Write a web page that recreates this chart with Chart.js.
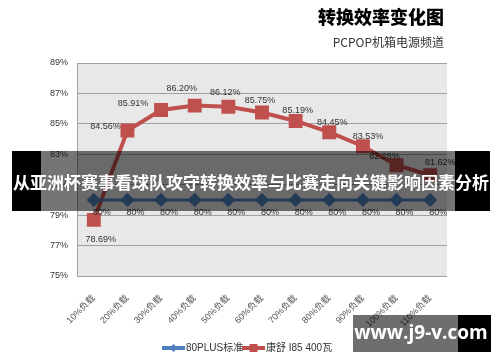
<!DOCTYPE html>
<html>
<head>
<meta charset="utf-8">
<script src="https://cdn.jsdelivr.net/npm/chart.js@4.4.1/dist/chart.umd.min.js"></script>
<style>
  html, body { margin: 0; padding: 0; background: #fff; }
  #wrap { width: 500px; height: 362px; position: relative; }
</style>
</head>
<body>
<div id="wrap"><canvas id="chart" width="500" height="362"></canvas></div>
<script>
const categories = ['10%负载', '20%负载', '30%负载', '40%负载', '50%负载', '60%负载',
                    '70%负载', '80%负载', '90%负载', '100%负载', '110%负载'];
const standardValues = [80, 80, 80, 80, 80, 80, 80, 80, 80, 80, 80];
const kangshuValues = [78.69, 84.56, 85.91, 86.20, 86.12, 85.75, 85.19, 84.45, 83.53, 82.28, 81.62];
const yMin = 75;
const yMax = 89;
const yStep = 2;

const titleText = '转换效率变化图';
const subtitleText = 'PCPOP机箱电源频道';
const bannerText = '从亚洲杯赛事看球队攻守转换效率与比赛走向关键影响因素分析';
const watermarkText = 'www.j9-v.com';

const blue = '#4f81bd';
const red = '#c0504d';
const font = '"Liberation Sans", "Noto Sans CJK SC", sans-serif';
const cjk = '"Noto Sans CJK SC", sans-serif';

// label offsets for the red series (dx, dy from the point)
const redLabelOffsets = [[7, 20], [-22, -4], [-28, -6], [-13, -17], [-3, -14], [-2, -12],
                         [2, -10], [3, -10], [5, -10], [-12, -9], [10, -13]];

const extras = {
    id: 'extras',
    beforeDraw(chart) {
        const { ctx, chartArea: a } = chart;
        ctx.save();
        ctx.fillStyle = '#e8e8e8';
        ctx.fillRect(a.left, a.top, a.right - a.left, a.bottom - a.top);
        ctx.restore();
    },
    afterDraw(chart) {
        const ctx = chart.ctx;
        ctx.save();

        // data labels
        ctx.font = '9px ' + font;
        ctx.fillStyle = '#333';
        ctx.textAlign = 'center';
        ctx.textBaseline = 'middle';
        chart.getDatasetMeta(1).data.forEach((pt, i) => {
            const o = redLabelOffsets[i];
            ctx.fillText(kangshuValues[i].toFixed(2) + '%', pt.x + o[0], pt.y + o[1]);
        });
        chart.getDatasetMeta(0).data.forEach((pt, i) => {
            ctx.fillText(standardValues[i] + '%', pt.x + 8, pt.y + 13);
        });

        // titles
        ctx.textAlign = 'right';
        ctx.textBaseline = 'middle';
        ctx.fillStyle = '#000';
        ctx.font = '900 18px ' + cjk;
        ctx.fillText(titleText, 444, 17);
        ctx.fillStyle = '#333';
        ctx.font = '12px ' + cjk;
        ctx.fillText(subtitleText, 444, 42);

        // legend
        const items = [
            { label: chart.data.datasets[0].label, color: blue, style: 'diamond', x: 162 },
            { label: chart.data.datasets[1].label, color: red, style: 'square', x: 242 }
        ];
        const ly = 348;
        items.forEach(it => {
            ctx.strokeStyle = it.color;
            ctx.lineWidth = 4;
            ctx.beginPath();
            ctx.moveTo(it.x, ly);
            ctx.lineTo(it.x + 23, ly);
            ctx.stroke();
            ctx.fillStyle = it.color;
            const cx = it.x + 11.5;
            if (it.style === 'diamond') {
                ctx.beginPath();
                ctx.moveTo(cx, ly - 4);
                ctx.lineTo(cx + 4, ly);
                ctx.lineTo(cx, ly + 4);
                ctx.lineTo(cx - 4, ly);
                ctx.closePath();
                ctx.fill();
            } else {
                ctx.fillRect(cx - 4, ly - 4, 8, 8);
            }
            ctx.fillStyle = '#333';
            ctx.font = '10px ' + font;
            ctx.textAlign = 'left';
            ctx.fillText(it.label, it.x + 24, ly);
        });

        // banner overlay
        ctx.fillStyle = '#000';
        ctx.fillRect(12, 151, 29, 60);
        ctx.fillRect(455, 151, 35, 60);
        ctx.fillStyle = 'rgba(0,0,0,0.54)';
        ctx.fillRect(41, 151, 414, 60);
        ctx.fillStyle = '#fff';
        ctx.font = 'bold 17px ' + cjk;
        ctx.textAlign = 'center';
        ctx.fillText(bannerText, 251, 183);

        // watermark
        ctx.fillStyle = 'rgba(0,0,0,0.57)';
        ctx.fillRect(353, 315, 105, 37);
        ctx.fillStyle = '#000';
        ctx.fillRect(458, 315, 33, 37);
        ctx.fillStyle = '#fff';
        ctx.font = 'bold 19px "Open Sans", "DejaVu Sans", sans-serif';
        ctx.fillText(watermarkText, 421, 334);

        ctx.restore();
    }
};

new Chart(document.getElementById('chart'), {
    type: 'line',
    data: {
        labels: categories,
        datasets: [
            {
                label: '80PLUS标准',
                data: standardValues,
                borderColor: blue,
                backgroundColor: blue,
                borderWidth: 3,
                pointStyle: 'rectRot',
                pointRadius: 5,
                pointHoverRadius: 5
            },
            {
                label: '康舒 I85 400瓦',
                data: kangshuValues,
                borderColor: red,
                backgroundColor: red,
                borderWidth: 4,
                pointStyle: 'rect',
                pointRadius: 7,
                pointHoverRadius: 7
            }
        ]
    },
    options: {
        responsive: false,
        animation: false,
        layout: { padding: { top: 63, right: 53, left: 0, bottom: 0 } },
        plugins: {
            legend: { display: false },
            tooltip: { enabled: false }
        },
        scales: {
            x: {
                offset: true,
                grid: { display: false },
                border: { display: false },
                ticks: {
                    color: '#555',
                    font: { size: 9, family: font },
                    maxRotation: 45,
                    minRotation: 45,
                    padding: 9
                },
                afterFit(scale) { scale.height = 86; }
            },
            y: {
                min: yMin,
                max: yMax,
                grid: { color: '#a0a0a0', lineWidth: 1, drawTicks: false },
                border: { color: '#a0a0a0' },
                ticks: {
                    stepSize: yStep,
                    color: '#333',
                    font: { size: 9, family: font },
                    padding: 9,
                    callback: v => v + '%'
                },
                afterFit(scale) { scale.width = 77; }
            }
        }
    },
    plugins: [extras]
});
</script>
</body>
</html>
